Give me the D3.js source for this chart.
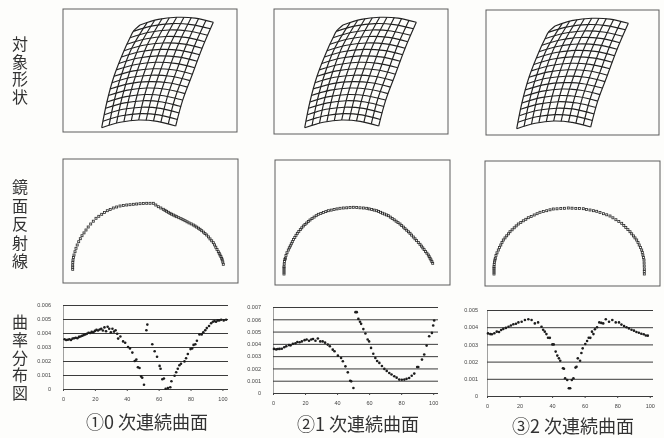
<!DOCTYPE html>
<html>
	<head>
		<meta charset="UTF-8">
		<title></title>
		<script src="https://cdnjs.cloudflare.com/ajax/libs/d3/7.8.5/d3.min.js" type="text/javascript" charset="utf-8"></script>
		<style>
			html, body { margin: 0; padding: 0; background: #fdfdfb; }
			svg { display: block; }
		</style>
	</head>
	<body>
		<div id="chartBox"></div>
		<script type="text/javascript">
			// row labels and captions
			var rowTitles = ["対象形状", "鏡面反射線", "曲率分布図"];
			var captions = ["①0 次連続曲面", "②1 次連続曲面", "③2 次連続曲面"];

			// surface mesh
			var meshRows = [
				[[77,16],[95.3,10.4],[113.7,8.3],[132,9.1],[150.3,13.3]],
				[[70.3,22.4],[89.6,16.9],[108.9,14.6],[128.2,15.6],[147.5,19.8]],
				[[67,28.8],[86.4,23.3],[105.8,21],[125.2,22],[144.6,26.3]],
				[[64,35.2],[83.5,29.7],[102.9,27.5],[122.4,28.4],[141.8,32.7]],
				[[61,41.7],[80.5,36.2],[100,34],[119.6,34.9],[139.1,39.2]],
				[[58.5,48],[78,42.5],[97.6,40.4],[117.2,41.4],[136.7,45.7]],
				[[55.8,54.5],[75.4,49],[95,46.9],[114.6,47.9],[134.2,52.2]],
				[[53.2,60.9],[72.9,55.5],[92.5,53.3],[112.1,54.4],[131.8,58.7]],
				[[51,67.3],[70.6,61.9],[90.2,59.8],[109.8,60.8],[129.4,65.2]],
				[[49,73.7],[68.5,68.3],[88,66.2],[107.5,67.2],[127,71.6]],
				[[47,80],[66.4,74.6],[85.8,72.6],[105.1,73.7],[124.5,78.1]],
				[[45.4,86.5],[64.6,81.1],[83.7,79],[102.9,80.2],[122,84.6]],
				[[43.9,93],[62.9,87.6],[81.8,85.5],[100.8,86.7],[119.7,91.1]],
				[[42.6,99.3],[61.5,93.9],[80.3,91.7],[99.2,93],[118,97.5]],
				[[41.3,105.7],[60,100.3],[78.8,98.2],[97.5,99.4],[116.2,104]],
				[[40,112.2],[58.6,106.8],[77.2,104.6],[95.8,105.9],[114.4,110.5]],
				[[38.7,118.7],[57.2,113.3],[75.7,111],[94.2,112.4],[112.7,117]]
			];
			var meshColumns = [
				[[77,16],[70.3,22.4],[67,28.8],[61,41.7],[51,67.3],[43.9,93],[38.7,118.7]],
				[[84.3,13.4],[68.8,39.1],[58.8,64.8],[51.5,90.5],[46.1,116.2]],
				[[91.7,11.3],[76.6,37],[66.7,62.7],[59.1,88.4],[53.5,114.2]],
				[[99,9.7],[84.4,35.5],[74.5,61.2],[66.6,86.9],[60.9,112.7]],
				[[106.3,8.7],[92.2,34.5],[82.4,60.3],[74.2,86],[68.3,111.6]],
				[[113.7,8.3],[100,34],[90.2,59.8],[81.8,85.5],[75.7,111]],
				[[121,8.2],[107.9,34],[98,59.8],[89.4,85.7],[83.1,111.3]],
				[[128.3,8.6],[115.7,34.5],[105.9,60.3],[97,86.2],[90.5,112]],
				[[135.6,9.6],[123.5,35.5],[113.7,61.4],[104.5,87.3],[97.9,113.1]],
				[[143,11.3],[131.3,37.2],[121.6,63.1],[112.1,89],[105.3,114.9]],
				[[150.3,13.3],[139.1,39.2],[129.4,65.2],[119.7,91.1],[112.7,117]]
			];

			// reflection lines, one list per panel
			var reflect0 = [[9.7,110.3],[9.7,108.2],[9.7,106],[9.8,103.5],[10,101],[10.4,98.5],[11,96],[12,92.7],[13,89.3],[14.2,86],[15.7,82.7],[17.3,79.7],[19,76.7],[21,73.9],[23,71],[25.2,68],[27.7,65],[30.3,62.2],[33,59.3],[35.8,57.3],[38.7,55.3],[41.4,53.5],[44.3,51.7],[47.2,50.4],[50.3,49],[53.6,48],[57,47],[60.3,46.5],[63.7,46],[67,45.7],[70.3,45.3],[73.6,45],[77,44.7],[80.3,44.5],[83.7,44.3],[87,44.3],[90.3,44.3],[92.8,46],[95.3,47.7],[97.8,49],[100.3,50.3],[102,51.3],[103.6,52.3],[105.3,53.3],[107,54.3],[108.6,55.2],[110.3,56],[112,56.9],[113.7,57.7],[115.8,58.7],[118,59.7],[120,60.7],[122,61.7],[124,62.8],[126,63.9],[128.2,64.9],[130.3,66],[132,67],[133.7,68.1],[135.4,69.2],[137,70.3],[138.7,71.7],[140.4,73.1],[142,74.6],[143.7,76],[145.4,77.9],[147,79.9],[148.7,81.8],[150.3,83.7],[151.6,85.9],[152.8,88.2],[154,90.4],[155.3,92.7],[156.2,94.3],[157,96],[157.9,97.6],[158.7,99.3],[159.2,100.8],[159.8,103],[160.3,105.3]];
			var reflect1 = [[9,114],[9,112],[9,110],[9,108],[9,106.7],[9.2,104],[9.5,101.5],[9.9,99.5],[10.3,98.3],[11,95.5],[12,92.7],[13.3,90],[14.3,87.8],[15.3,85.9],[16.3,83.8],[17.3,81.7],[18.5,79.5],[19.8,77.4],[21,75.3],[22.3,73.3],[23.8,71.5],[25.3,69.6],[26.8,67.8],[28.3,66],[30,64.5],[31.7,63],[33.3,61.5],[35,60],[37,58.6],[39.1,57.1],[41.2,55.7],[43.3,54.3],[45.8,53.4],[48.3,52.5],[50.8,51.6],[53.3,50.7],[56.2,50.1],[59.1,49.5],[62,48.9],[65,48.3],[68.3,48],[71.7,47.8],[75,47.5],[78.3,47.3],[81.7,47.5],[85,47.8],[88.4,48],[91.7,48.3],[94.2,48.9],[96.7,49.5],[99.2,50.1],[101.7,50.7],[103.6,51.5],[105.6,52.3],[107.5,53.2],[109.4,54],[111.4,54.9],[113.3,55.7],[115.3,57.1],[117.2,58.5],[119.2,59.8],[121.1,61.2],[123,62.6],[125,64],[126.7,65.6],[128.4,67.1],[130,68.7],[131.7,70.2],[133.4,71.8],[135,73.3],[136.6,75.1],[138.3,77],[140,78.8],[141.6,80.6],[143.3,82.5],[145,84.3],[146.4,86.1],[147.8,87.9],[149.1,89.6],[150.5,91.4],[151.9,93.2],[153.3,95],[154.2,96.7],[155.1,98.3],[156,99.9],[156.9,101.6],[157.7,103.3]];
			var reflect2 = [[9,113],[9,111],[9,109],[9,107.2],[9,105.7],[9.2,103.5],[9.5,101],[9.9,99],[10.3,97.3],[11,94.5],[12,91.8],[13.3,89],[14.5,86.5],[15.8,84],[17,81.5],[18.3,79],[20,76.9],[21.7,74.8],[23.4,72.8],[25,70.7],[27.1,68.8],[29.2,66.8],[31.2,64.9],[33.3,63],[35.8,61.4],[38.3,59.8],[40.8,58.3],[43.3,56.7],[46.2,55.4],[49.2,54],[52.1,52.7],[55,51.3],[58.3,50.5],[61.7,49.7],[65,48.8],[68.3,48],[72,47.8],[75.8,47.5],[79.6,47.3],[83.3,47],[87,47.2],[90.8,47.4],[94.6,47.5],[98.3,47.7],[101.6,48.4],[105,49],[108.4,49.7],[111.7,50.3],[115,51.5],[118.4,52.7],[121.7,53.8],[125,55],[127.9,56.8],[130.9,58.7],[133.8,60.5],[136.7,62.3],[138.8,64.4],[140.8,66.5],[142.9,68.6],[145,70.7],[146.7,72.8],[148.4,74.9],[150,76.9],[151.7,79],[153,81.5],[154.2,84],[155.5,86.5],[156.7,89],[157.3,91.5],[157.9,94],[158.4,96.5],[159,99],[159.1,102],[159.2,105],[159.3,108],[159.3,110.5],[159.3,113]];

			// curvature distribution, [position, curvature]
			var curvature0 = [[1,.00355],[2,.0035],[3,.00352],[4,.00355],[5,.0035],[6,.0036],[7,.00362],[8,.00366],[9,.00362],[10,.00372],[11,.00375],[12,.0038],[13,.00385],[14,.0039],[15,.00395],[16,.00402],[17,.004],[18,.00408],[19,.00405],[20,.00415],[21,.00422],[22,.00418],[23,.00425],[24,.0043],[25,.00418],[26,.0044],[27,.00412],[28,.00445],[29,.0043],[30,.00405],[31,.0043],[32,.0041],[33,.0042],[34,.00395],[34.6,.0036],[36,.00375],[37.7,.0034],[39,.0033],[40.8,.003],[42,.0029],[43.5,.0026],[45,.002],[46,.0021],[47,.00155],[48,.0015],[49,.0009],[49.7,.0008],[50.8,.0003],[52.3,.0042],[52.9,.0046],[56,.0032],[57.5,.0027],[59,.0023],[60.6,.00165],[61.2,.00145],[62.3,.0007],[63.3,.00075],[64.4,.00002],[65.8,.00007],[67.3,.00012],[68,.00055],[70,.00095],[71,.0012],[72,.00145],[73,.0017],[74,.0018],[76.2,.00197],[77.2,.0022],[78.3,.0025],[80,.00285],[81,.0029],[81.9,.00315],[83,.0032],[84,.00345],[85.6,.0039],[87,.0039],[88,.00405],[89.2,.0042],[90.2,.00435],[91.6,.0045],[92.9,.0047],[94,.0048],[95,.00485],[96,.0048],[97,.0049],[98,.0049],[99.2,.00495],[100.8,.0049],[102.3,.00495]];
			var curvature1 = [[.6,.00359],[2,.00355],[3,.00358],[4.1,.00359],[5.5,.0036],[7,.00372],[8.3,.0038],[10,.0039],[11,.00388],[12.4,.004],[14,.00405],[15.2,.00415],[16.6,.00413],[18,.0042],[19.7,.0043],[21,.00435],[22.5,.00425],[23.9,.00435],[25,.0044],[26.5,.00425],[28,.00443],[29.5,.0042],[31,.0042],[32.5,.0041],[34.2,.00394],[35.5,.0038],[37.3,.00353],[38.4,.0034],[40.5,.00304],[42.5,.00285],[43.6,.00258],[45.2,.00217],[46.7,.00168],[48.2,.001],[48.8,.00095],[50.2,.00041],[51.5,.00658],[52.3,.00658],[53.3,.00603],[54.3,.0058],[55,.00563],[56.4,.0052],[57.7,.00484],[59.1,.00435],[60,.0042],[61.2,.00367],[62.6,.0032],[63.9,.00285],[65,.0026],[66.4,.00245],[68,.0022],[69.5,.00196],[71,.0018],[72.6,.00163],[74,.0015],[75.7,.00136],[77.2,.00125],[78.8,.00109],[80.4,.00108],[82,.00109],[83.4,.00115],[85,.00122],[86.6,.0014],[88.2,.00158],[90,.00212],[90.7,.00212],[93,.00272],[94.4,.00313],[95.9,.00386],[97.5,.00462],[99.2,.00489],[100,.00549],[100.6,.0059]];
			var curvature2 = [[.6,.00364],[2,.0036],[3,.00359],[4.5,.00365],[6,.00374],[7.4,.00372],[8.7,.00384],[10,.0039],[11.6,.00396],[13.2,.00403],[14.7,.0041],[16.2,.00417],[17.8,.0042],[19.3,.00428],[21.3,.00432],[23.3,.00442],[25.4,.00446],[27.4,.00442],[29.4,.00422],[31.4,.00428],[33.5,.00403],[34.5,.00385],[35.5,.00374],[36.5,.0036],[37.5,.00339],[38.6,.00338],[40.2,.003],[41,.003],[42.2,.00258],[43.2,.00235],[44.2,.00219],[45,.00205],[46.7,.00161],[47.3,.00158],[48,.00103],[49.3,.00093],[50.3,.00045],[51.1,.00045],[52.1,.00093],[53.1,.00103],[54.4,.00165],[55,.0017],[55.8,.00219],[57.2,.00205],[58,.0025],[58.8,.00277],[60.4,.00302],[61.5,.0032],[62.5,.00339],[63.5,.00338],[64.5,.00374],[65.4,.0036],[66.3,.00388],[67.6,.004],[69,.00428],[70.2,.00425],[71.4,.00422],[73,.00446],[75,.00432],[77,.00442],[79.1,.00428],[81.1,.00428],[82.6,.00415],[84.2,.00407],[85.7,.004],[87.2,.00393],[88.8,.00385],[90.3,.0038],[91.8,.00372],[93.3,.00368],[94.8,.00362],[96.3,.00359],[97.6,.00352],[98.8,.00351]];

			// axis ticks
			var curvatureTicks = [
				[0, .001, .002, .003, .004, .005, .006],
				[0, .001, .002, .003, .004, .005, .006, .007],
				[0, .001, .002, .003, .004, .005]
			];
			var positionTicks = [0, 20, 40, 60, 80, 100];

			var reflectSeries = [reflect0, reflect1, reflect2];
			var curvatureSeries = [curvature0, curvature1, curvature2];

			//layout, the scan is slightly skewed so every panel has its own box
			var width = 664;
			var height = 438;
			var meshBoxes = [
				{left: 63, right: 237, top: 9, bottom: 132, shift: 0},
				{left: 274, right: 448, top: 9, bottom: 134, shift: 8},
				{left: 486, right: 659, top: 10, bottom: 135, shift: 8}
			];
			var reflectBoxes = [
				{left: 63, right: 238, top: 159, bottom: 283},
				{left: 275, right: 450, top: 160, bottom: 285},
				{left: 485, right: 660, top: 161, bottom: 286}
			];
			var curvatureBoxes = [
				{left: 63, right: 228, top: 305, bottom: 389, xMax: 103.5, yMax: .006, labelGap: 12},
				{left: 273, right: 438, top: 307, bottom: 393, xMax: 103, yMax: .007, labelGap: 12},
				{left: 487, right: 653, top: 310, bottom: 396, xMax: 102, yMax: .005, labelGap: 9}
			];
			var titleRows = [
				{x: 20, y: 36, spacing: 1.7},
				{x: 20, y: 179, spacing: 2.5},
				{x: 20, y: 314, spacing: 1.8}
			];
			var captionPos = [
				{x: 147, y: 429},
				{x: 358, y: 431},
				{x: 573, y: 433}
			];

			var inkColor = "#222";
			var frameColor = "#5c5c5c";

			var svg = d3.select("#chartBox").append("svg")
				.attr("width", width)
				.attr("height", height);

			//soft blur, the reference is a scanned page
			svg.append("filter")
				.attr("id", "scan")
				.append("feGaussianBlur")
				.attr("stdDeviation", 0.45);

			var page = svg.append("g").attr("filter", "url(#scan)");

			var drawFrame = function(box){
				page.append("rect")
					.attr("x", box.left)
					.attr("y", box.top)
					.attr("width", box.right - box.left)
					.attr("height", box.bottom - box.top)
					.attr("fill", "none")
					.attr("stroke", frameColor)
					.attr("stroke-width", 1);
			};

			//top row, the surface mesh
			meshBoxes.forEach(function(box){
				drawFrame(box);
				var x = d3.scaleLinear()
					.domain([box.shift, box.shift + box.right - box.left])
					.range([box.left, box.right]);
				var y = d3.scaleLinear()
					.domain([0, box.bottom - box.top])
					.range([box.top, box.bottom]);
				var line = d3.line()
					.x(function(d){ return x(d[0]); })
					.y(function(d){ return y(d[1]); })
					.curve(d3.curveCatmullRom);
				page.append("g")
					.selectAll("path")
					.data(meshRows.concat(meshColumns))
					.enter()
					.append("path")
					.attr("d", line)
					.attr("fill", "none")
					.attr("stroke", inkColor)
					.attr("stroke-width", 1.15);
			});

			//middle row, the reflection lines
			reflectBoxes.forEach(function(box, i){
				drawFrame(box);
				var x = d3.scaleLinear()
					.domain([0, box.right - box.left])
					.range([box.left, box.right]);
				var y = d3.scaleLinear()
					.domain([0, box.bottom - box.top])
					.range([box.top, box.bottom]);
				page.append("g")
					.selectAll("rect")
					.data(reflectSeries[i])
					.enter()
					.append("rect")
					.attr("x", function(d){ return x(d[0]) - 1; })
					.attr("y", function(d){ return y(d[1]) - 1; })
					.attr("width", 2)
					.attr("height", 2)
					.attr("fill", "none")
					.attr("stroke", "#2a2a2a")
					.attr("stroke-width", 0.8);
			});

			//bottom row, the curvature charts
			curvatureBoxes.forEach(function(box, i){
				var x = d3.scaleLinear()
					.domain([0, box.xMax])
					.range([box.left, box.right]);
				var y = d3.scaleLinear()
					.domain([0, box.yMax])
					.range([box.bottom, box.top]);

				var yAxis = page.append("g")
					.attr("transform", "translate(" + box.left + ",0)")
					.call(d3.axisLeft(y)
						.tickValues(curvatureTicks[i])
						.tickSize(-(box.right - box.left))
						.tickPadding(box.labelGap)
						.tickFormat(function(d){ return d === 0 ? "0" : d3.format(".3f")(d); }));
				yAxis.select(".domain").attr("stroke", "#888").attr("stroke-width", 0.8);
				yAxis.selectAll(".tick line").attr("stroke", "#3a3a3a").attr("stroke-width", 1);
				yAxis.selectAll("text")
					.attr("font-family", "Liberation Sans")
					.attr("font-size", 5.5)
					.attr("fill", "#444");

				var xAxis = page.append("g")
					.attr("transform", "translate(0," + box.bottom + ")")
					.call(d3.axisBottom(x)
						.tickValues(positionTicks)
						.tickSize(2)
						.tickPadding(6)
						.tickFormat(d3.format("d")));
				xAxis.select(".domain").attr("stroke", "none");
				xAxis.selectAll(".tick line").attr("stroke", "#444");
				xAxis.selectAll("text")
					.attr("font-family", "Liberation Sans")
					.attr("font-size", 5.5)
					.attr("fill", "#444");

				page.append("g")
					.selectAll("circle")
					.data(curvatureSeries[i])
					.enter()
					.append("circle")
					.attr("cx", function(d){ return x(d[0]); })
					.attr("cy", function(d){ return y(d[1]); })
					.attr("r", 1.3)
					.attr("fill", "#1c1c1c");
			});

			//vertical row titles
			page.append("g")
				.selectAll("text")
				.data(rowTitles)
				.enter()
				.append("text")
				.attr("x", function(d, i){ return titleRows[i].x; })
				.attr("y", function(d, i){ return titleRows[i].y; })
				.style("writing-mode", "vertical-rl")
				.style("text-orientation", "upright")
				.style("letter-spacing", function(d, i){ return titleRows[i].spacing + "px"; })
				.attr("font-family", "Noto Sans CJK JP")
				.attr("font-size", 16)
				.attr("fill", "#333")
				.text(function(d){ return d; });

			//captions under each column
			page.append("g")
				.selectAll("text")
				.data(captions)
				.enter()
				.append("text")
				.attr("x", function(d, i){ return captionPos[i].x; })
				.attr("y", function(d, i){ return captionPos[i].y; })
				.attr("text-anchor", "middle")
				.attr("font-family", "Noto Sans CJK JP")
				.attr("font-size", 18)
				.attr("fill", "#333")
				.text(function(d){ return d; });
		</script>
	</body>
</html>
